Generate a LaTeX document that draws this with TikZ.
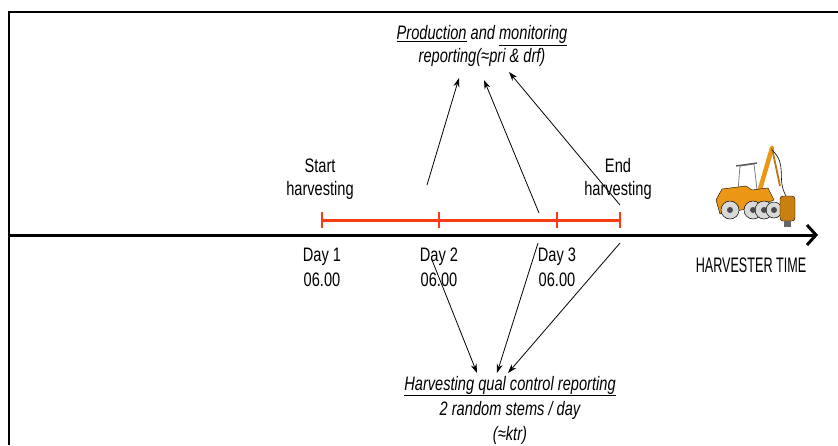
\documentclass[tikz,border=0pt]{standalone}
\usepackage{fontspec}
\setmainfont{Liberation Sans}[FakeStretch=0.75]
\usetikzlibrary{arrows.meta, positioning}

\definecolor{timered}{RGB}{250,60,20}
\definecolor{machine}{RGB}{235,150,20}

\begin{document}
\begin{tikzpicture}[x=1pt, y=-1pt,
        txt/.style = {align=center, inner sep=0pt, font=\fontsize{19.5}{23}\selectfont},
        daytxt/.style = {txt, font=\fontsize{19.5}{25}\selectfont},
        itxt/.style = {txt, font=\fontsize{19.5}{23.5}\selectfont\itshape},
        link/.style = {line width=0.8pt, -{Stealth[length=9pt, width=6pt]}},
        tick/.style = {timered, line width=2pt}
                        ]
\useasboundingbox (0,0) rectangle (838,445);
% frame
\draw[line width=2.2pt] (838,12) -- (9,12) -- (9,445);

% time axis
\coordinate (t0) at (10,235);
\coordinate (t1) at (818,235);
\draw[line width=3pt, -{Straight Barb[length=9pt, width=20pt]}] (t0) -- (t1);

% harvesting days
\coordinate (d1) at (322,220);
\coordinate (d2) at (439,220);
\coordinate (d3) at (557,220);
\coordinate (d4) at (620,220);
\draw[timered, line width=3pt] (d1) -- (d4);
\foreach \d in {d1,d2,d3,d4}
    \draw[tick] ([yshift=-8pt]\d) -- ([yshift=8pt]\d);

\node (start)[txt] at (320,179) {Start\\harvesting};
\node (end)  [txt] at (618,179) {End\\harvesting};
\node (day1) [daytxt] at (322,267) {Day 1\\06.00};
\node (day2) [daytxt] at (439,267) {Day 2\\06.00};
\node (day3) [daytxt] at (557,267) {Day 3\\06.00};
\node (htime)[txt, font=\fontsize{21}{25}\selectfont] at (751,265) {\scalebox{0.8}[1]{HARVESTER TIME}};

% reports
\node (prod)[itxt] at (482,46) {\underline{Production} and \underline{monitoring}\\reporting(≈pri \& drf)};
\node (qual)[itxt, font=\fontsize{19.5}{25}\selectfont\itshape] at (510,410)
    {\underline{Harvesting qual control reporting}\\2 random stems / day\\(≈ktr)};

\coordinate (pa) at (427,185);
\coordinate (pb) at (539,213);
\coordinate (pc) at (620,205);
\coordinate (pa') at (459,78);
\coordinate (pb') at (484,80);
\coordinate (pc') at (509,72);
\draw[link] (pa) -- (pa');
\draw[link] (pb) -- (pb');
\draw[link] (pc) -- (pc');

\coordinate (qa) at (432,260);
\coordinate (qb) at (538,243);
\coordinate (qc) at (620,243);
\coordinate (qa') at (477,373);
\coordinate (qb') at (497,373);
\coordinate (qc') at (508,373);
\draw[link] (qa) -- (qa');
\draw[link] (qb) -- (qb');
\draw[link] (qc) -- (qc');

% harvester
\draw[machine, line width=4.5pt, line cap=round] (758,196) -- (772,148);
\draw[machine!80!black, line width=1.8pt] (772,148) -- (780,186);
\draw[black, line width=0.6pt] (772,150) .. controls (788,165) and (776,178) .. (786,196);
\draw[gray, line width=0.8pt] (738,190) -- (740,166) -- (754,164) -- (757,190);
\draw[gray!70!black, line width=1.4pt] (736,166) -- (757,163);
\fill[machine, draw=black, line width=0.4pt]
    (716,200) -- (722,189) -- (746,186) -- (752,190) -- (768,188) -- (774,200) -- (752,208) -- (720,214) -- cycle;
\foreach \wx/\r in {730/9,753/9,764/9,774/8}
    \filldraw[fill=gray!30, draw=black, line width=0.5pt] (\wx,210) circle (\r pt);
\foreach \wx in {730,753,764,774}
    \fill[black!70] (\wx,210) circle (3pt);
\fill[machine!85!black, draw=black, line width=0.4pt, rounded corners=3pt] (780,196) rectangle (795,221);
\fill[black!60] (784,221) rectangle (791,227);
\end{tikzpicture}
\end{document}
